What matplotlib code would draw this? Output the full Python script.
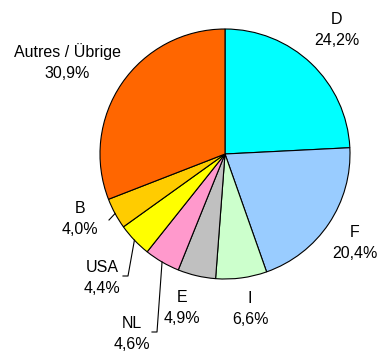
import numpy as np
import matplotlib.pyplot as plt

plt.rcParams['font.family'] = ['Liberation Sans', 'DejaVu Sans']

countries = ['D', 'F', 'I', 'E', 'NL', 'USA', 'B', 'Autres / Übrige']
shares = [24.2, 20.4, 6.6, 4.9, 4.6, 4.4, 4.0, 30.9]
colors = ['#00FFFF', '#99CCFF', '#CCFFCC', '#C0C0C0', '#FF99CC',
          '#FFFF00', '#FFCC00', '#FF6600']

# label centres in pixels (x, y from top), pie centre at (225, 154), radius 125
label_px = [(337, 30), (355, 243), (250, 309), (182, 308), (132, 334),
            (102, 278), (80, 219), (67, 62)]
# leader lines: elbow points in pixels for the small slices
leaders = {'B': [(109, 220)],
           'USA': [(128, 276), (123, 276)],
           'NL': [(157, 332), (152, 332)]}

CX, CY, R = 225, 154, 125


def to_data(x, y):
    return (x - CX) / R, (CY - y) / R


fig = plt.figure(figsize=(3.81, 3.53), dpi=100)
ax = fig.add_axes([0, 0, 1, 1])

wedges, _ = ax.pie(shares, colors=colors, startangle=90, counterclock=False,
                   radius=1.0, center=(0, 0),
                   wedgeprops=dict(edgecolor='black', linewidth=0.8))

for name, val, (x, y) in zip(countries, shares, label_px):
    tx, ty = to_data(x, y)
    ax.text(tx, ty, f"{name}\n{val:.1f}".replace('.', ',') + '%',
            ha='center', va='center', fontsize=11.5, linespacing=1.5)

for w, name in zip(wedges, countries):
    if name not in leaders:
        continue
    mid = np.deg2rad((w.theta1 + w.theta2) / 2)
    xs = [np.cos(mid)] + [to_data(*p)[0] for p in leaders[name]]
    ys = [np.sin(mid)] + [to_data(*p)[1] for p in leaders[name]]
    ax.plot(xs, ys, color='black', linewidth=0.8)

ax.set_xlim(-CX / R, (381 - CX) / R)
ax.set_ylim(-(353 - CY) / R, CY / R)
ax.set_aspect('equal')
ax.axis('off')

fig.savefig('out.png', dpi=100)
